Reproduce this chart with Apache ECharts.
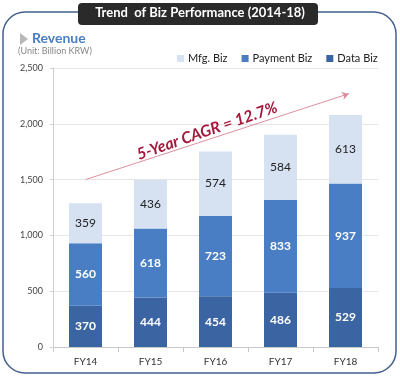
<!DOCTYPE html>
<html>
<head>
<meta charset="utf-8">
<script src="https://cdn.jsdelivr.net/npm/echarts@6/dist/echarts.min.js"></script>
<style>
  html, body { margin: 0; padding: 0; background: #fff; }
  #chart { width: 400px; height: 377px; }
</style>
</head>
<body>
<div id="chart"></div>
<script>
  // revenue, billion KRW
  const years = ['FY14', 'FY15', 'FY16', 'FY17', 'FY18'];
  const dataBiz = [370, 444, 454, 486, 529];
  const paymentBiz = [560, 618, 723, 833, 937];
  const mfgBiz = [359, 436, 574, 584, 613];
  const yTicks = [0, 500, 1000, 1500, 2000, 2500];
  // CAGR arrow ends (category, value)
  const cagrFrom = ['FY14', 1500];
  const cagrTo = ['FY18', 2270];

  const FONT = 'Lato, "Open Sans", sans-serif';
  const chart = echarts.init(document.getElementById('chart'));

  function barLabel(color, bold) {
    return {
      show: true,
      position: 'inside',
      color: color,
      fontFamily: FONT,
      fontSize: 12,
      fontWeight: bold ? 'bold' : 'normal'
    };
  }

  chart.setOption({
    backgroundColor: '#fff',
    animation: false,
    grid: { left: 53, right: 22, top: 68, bottom: 30 },
    legend: {
      left: 172,
      top: 48,
      width: 226,
      itemWidth: 7,
      itemHeight: 7,
      itemGap: 14,
      icon: 'rect',
      textStyle: { fontFamily: FONT, fontSize: 11, color: '#222', padding: [0, 0, 0, -1] },
      data: ['Mfg. Biz', 'Payment Biz', 'Data Biz']
    },
    xAxis: {
      type: 'category',
      data: years,
      axisLine: { lineStyle: { color: '#c8c8c8' } },
      axisTick: { show: true, lineStyle: { color: '#c8c8c8' } },
      axisLabel: { fontFamily: FONT, fontSize: 10, color: '#333', margin: 10 }
    },
    yAxis: {
      type: 'value',
      min: yTicks[0],
      max: yTicks[yTicks.length - 1],
      interval: 500,
      axisLine: { show: true, lineStyle: { color: '#d0d0d0' } },
      axisTick: { show: true, length: 3, lineStyle: { color: '#d0d0d0' } },
      splitLine: { lineStyle: { color: '#e6e6e6' } },
      axisLabel: {
        fontFamily: FONT, fontSize: 9, color: '#444', margin: 10,
        formatter: v => v.toLocaleString('en-US')
      }
    },
    series: [
      {
        name: 'Data Biz', type: 'bar', stack: 'rev', barWidth: 33,
        itemStyle: { color: '#3b64a2' },
        label: barLabel('#fff', true),
        data: dataBiz
      },
      {
        name: 'Payment Biz', type: 'bar', stack: 'rev',
        itemStyle: { color: '#4a7ec4' },
        label: barLabel('#fff', true),
        data: paymentBiz
      },
      {
        name: 'Mfg. Biz', type: 'bar', stack: 'rev',
        itemStyle: { color: '#d6e1f2' },
        label: barLabel('#222', false),
        data: mfgBiz,
        markLine: {
          silent: true,
          symbol: ['none', 'arrow'],
          symbolSize: [6, 7],
          label: { show: false },
          lineStyle: { color: '#dc8f9f', width: 1, type: 'solid' },
          data: [[{ coord: cagrFrom }, { coord: cagrTo, x: 349 }]]
        }
      }
    ],
    graphic: [
      {
        type: 'rect', z: 0,
        shape: { x: 3, y: 12, width: 393, height: 361, r: 22 },
        style: { fill: 'none', stroke: '#44618f', lineWidth: 1.5 }
      },
      {
        type: 'rect', z: 10,
        shape: { x: 78, y: 3, width: 240, height: 22, r: 4 },
        style: { fill: '#2a2a2a' }
      },
      {
        type: 'text', z: 11, left: 'center', top: 6,
        style: {
          text: 'Trend  of Biz Performance (2014-18)',
          fill: '#fff', font: 'bold 13px ' + FONT
        }
      },
      {
        type: 'polygon', z: 5,
        shape: { points: [[20, 33], [20, 45], [28, 39]] },
        style: { fill: '#b8b8b8' }
      },
      {
        type: 'text', z: 5, left: 32, top: 31,
        style: { text: 'Revenue', fill: '#4a7ec4', font: 'bold 14px ' + FONT }
      },
      {
        type: 'text', z: 5, left: 18, top: 47,
        style: { text: '(Unit: Billion KRW)', fill: '#888', font: '9px ' + FONT }
      },
      {
        type: 'text', z: 6, x: 207, y: 131, rotation: 19 * Math.PI / 180,
        style: {
          text: '5-Year CAGR = 12.7%',
          fill: '#a5183c',
          font: 'italic bold 16px ' + FONT,
          align: 'center', verticalAlign: 'middle'
        }
      }
    ]
  });
</script>
</body>
</html>
